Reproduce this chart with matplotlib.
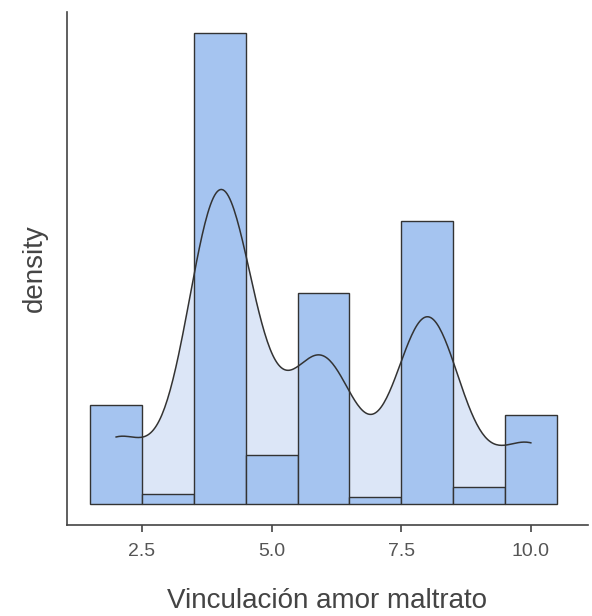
import numpy as np
import matplotlib.pyplot as plt

plt.rcParams['font.family'] = ['Liberation Sans', 'DejaVu Sans']

# scores 2..10 and how many answers fell on each
scores = [2, 3, 4, 5, 6, 7, 8, 9, 10]
counts = [30, 3, 143, 15, 64, 2, 86, 5, 27]
bins = np.arange(1.5, 11.5, 1.0)
xticks = [2.5, 5.0, 7.5, 10.0]
bw = 0.62

data = np.repeat(scores, counts)

# gaussian kde over the data range
xs = np.linspace(data.min(), data.max(), 300)
kde = np.exp(-0.5 * ((xs[:, None] - data[None, :]) / bw) ** 2).sum(axis=1)
kde /= len(data) * bw * np.sqrt(2 * np.pi)

fig = plt.figure(figsize=(5.92, 6.16), dpi=100)
ax = fig.add_axes([0.113, 0.148, 0.88, 0.833])

ax.fill_between(xs, kde, color='#dce6f7', zorder=1, lw=0)
ax.hist(data, bins=bins, density=True, color='#a5c4f0', edgecolor='#333333',
        linewidth=1.0, zorder=2)
ax.plot(xs, kde, color='#333333', lw=1.1, zorder=3)

ax.set_xlim(1.05, 11.1)
ax.set_ylim(-0.017, 0.399)
ax.set_xticks(xticks)
ax.set_xticklabels([f'{t:.1f}' for t in xticks])
ax.set_yticks([])

for s in ['top', 'right']:
    ax.spines[s].set_visible(False)
for s in ['left', 'bottom']:
    ax.spines[s].set_color('#444444')
    ax.spines[s].set_linewidth(1.2)

ax.tick_params(axis='x', colors='#444444', length=5, width=1.2,
               labelsize=14, labelcolor='#555555', pad=8)
ax.set_xlabel('Vinculación amor maltrato', fontsize=20, color='#444444',
              labelpad=20)
ax.set_ylabel('density', fontsize=20, color='#444444', labelpad=14)

fig.savefig('out.png', dpi=100)
